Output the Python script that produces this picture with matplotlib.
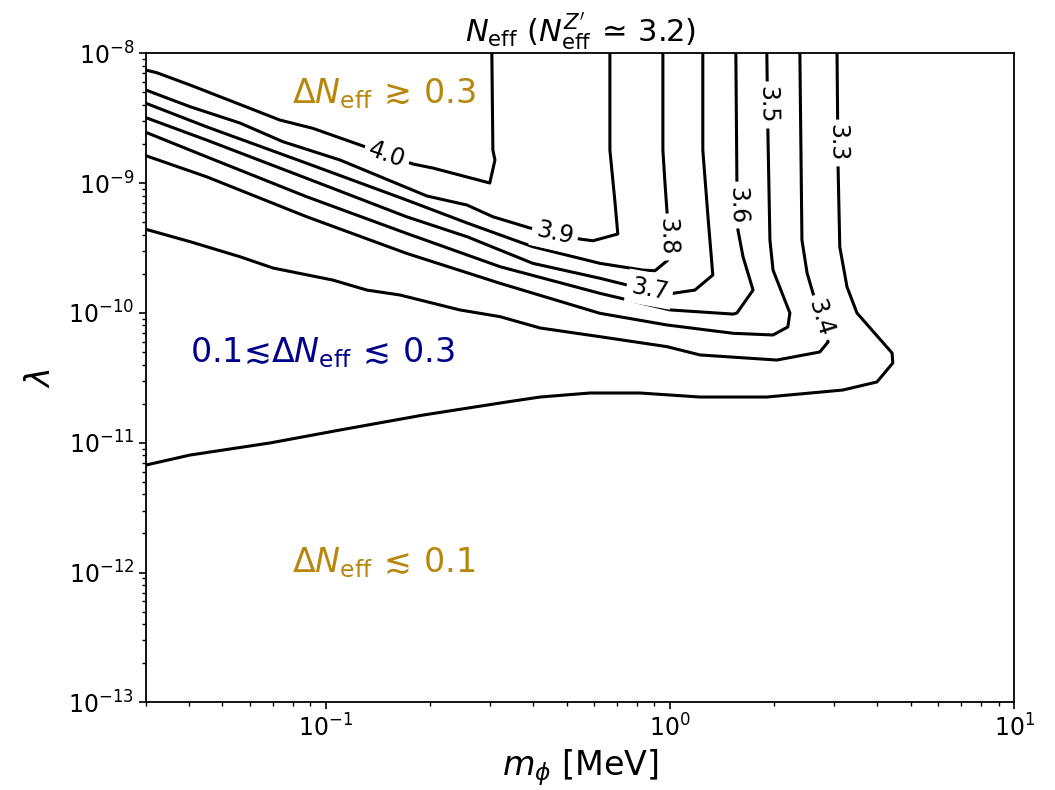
import numpy as np
import matplotlib.pyplot as plt

# N_eff contour levels, traced as (log10 m_phi [MeV], log10 lambda)
levels = [4.0, 3.9, 3.8, 3.7, 3.6, 3.5, 3.4, 3.3]

logm_40 = [-1.523, -1.492, -1.395, -1.270, -1.134, -1.038, -0.901, -0.747, -0.689, -0.524, -0.509, -0.515, -0.518]
logl_40 = [-8.129, -8.149, -8.244, -8.373, -8.514, -8.578, -8.706, -8.853, -8.884, -8.999, -8.822, -8.745, -8.0]

logm_39 = [-1.523, -1.395, -1.250, -1.125, -0.959, -0.707, -0.590, -0.515, -0.407, -0.262, -0.224, -0.152, -0.160, -0.175, -0.175]
logl_39 = [-8.283, -8.411, -8.537, -8.681, -8.822, -9.099, -9.169, -9.259, -9.346, -9.431, -9.444, -9.392, -9.153, -8.745, -8.0]

logm_38 = [-1.523, -1.347, -1.056, -0.766, -0.590, -0.399, -0.204, -0.079, -0.044, -0.006, -0.009, -0.015, -0.021, -0.021]
logl_38 = [-8.385, -8.566, -8.847, -9.130, -9.307, -9.490, -9.618, -9.670, -9.675, -9.592, -9.220, -8.999, -8.745, -8.0]

logm_37 = [-1.523, -1.347, -1.056, -0.766, -0.590, -0.399, -0.204, -0.125, 0.008, 0.072, 0.124, 0.110, 0.095, 0.095]
logl_37 = [-8.496, -8.668, -8.963, -9.259, -9.413, -9.618, -9.733, -9.785, -9.849, -9.824, -9.708, -9.259, -8.745, -8.0]

logm_36 = [-1.523, -1.347, -1.056, -0.766, -0.494, -0.204, 0.0, 0.183, 0.194, 0.241, 0.212, 0.197, 0.194, 0.191]
logl_36 = [-8.609, -8.797, -9.105, -9.387, -9.644, -9.849, -9.977, -10.009, -10.001, -9.824, -9.569, -9.361, -8.976, -8.0]

logm_35 = [-1.523, -1.347, -1.056, -0.766, -0.494, -0.204, -0.009, 0.183, 0.299, 0.342, 0.348, 0.299, 0.290, 0.284, 0.281]
logl_35 = [-8.789, -8.951, -9.259, -9.541, -9.772, -10.003, -10.093, -10.157, -10.170, -10.108, -10.001, -9.670, -9.438, -8.591, -8.0]

logm_34 = [-1.523, -1.395, -1.250, -1.154, -0.980, -0.881, -0.785, -0.611, -0.494, -0.378, -0.204, -0.009, 0.087, 0.310, 0.435, 0.459, 0.415, 0.398, 0.383, 0.377]
logl_34 = [-9.356, -9.451, -9.567, -9.654, -9.747, -9.824, -9.862, -9.977, -10.029, -10.116, -10.183, -10.260, -10.324, -10.363, -10.301, -10.224, -9.847, -9.693, -9.438, -8.0]

logm_33 = [-1.523, -1.395, -1.163, -0.959, -0.718, -0.474, -0.378, -0.233, -0.088, 0.087, 0.281, 0.502, 0.601, 0.647, 0.645, 0.543, 0.514, 0.493, 0.488, 0.485]
logl_33 = [-11.172, -11.095, -11.002, -10.902, -10.787, -10.686, -10.648, -10.617, -10.617, -10.648, -10.648, -10.594, -10.532, -10.386, -10.309, -10.001, -9.800, -9.492, -8.876, -8.0]

paths_logm = [logm_40, logm_39, logm_38, logm_37, logm_36, logm_35, logm_34, logm_33]
paths_logl = [logl_40, logl_39, logl_38, logl_37, logl_36, logl_35, logl_34, logl_33]

# where each contour label sits
label_logm = [-0.823, -0.335, -0.009, -0.059, 0.195, 0.281, 0.435, 0.485]
label_logl = [-8.784, -9.392, -9.415, -9.816, -9.169, -8.398, -10.039, -8.691]

# region annotations
region_text = [r'$\Delta N_{\rm eff}\, \gtrsim\, 0.3$',
               '0.1\u2272' + r'$\Delta N_{\rm eff}\, \lesssim\, 0.3$',
               r'$\Delta N_{\rm eff}\, \lesssim\, 0.1$']
region_m = [0.0796, 0.0403, 0.0796]
region_l = [10**-8.385, 10**-10.381, 10**-11.996]
region_col = ['#b8860b', '#00008b', '#b8860b']


def put_label(ax, xs, ys, lx, ly, text):
    pts = ax.transData.transform(np.column_stack([xs, ys]))
    p = ax.transData.transform((lx, ly))
    best = None
    for a, b in zip(pts[:-1], pts[1:]):
        d = b - a
        t = np.clip(np.dot(p - a, d) / max(np.dot(d, d), 1e-9), 0, 1)
        q = a + t * d
        dist = np.hypot(*(p - q))
        if best is None or dist < best[0]:
            best = (dist, q, d)
    _, q, d = best
    ang = np.degrees(np.arctan2(d[1], d[0]))
    if ang >= 90:
        ang -= 180
    if ang < -90:
        ang += 180
    pos = ax.transData.inverted().transform(q)
    ax.text(pos[0], pos[1], text, rotation=ang, rotation_mode='anchor',
            ha='center', va='center', fontsize=17, zorder=5,
            bbox=dict(boxstyle='square,pad=0.2', fc='white', ec='none'))


fig = plt.figure(figsize=(10.55, 7.9), dpi=100)
ax = fig.add_axes([0.1384, 0.1110, 0.8230, 0.8215])
ax.set_xscale('log')
ax.set_yscale('log')
ax.set_xlim(0.03, 10)
ax.set_ylim(1e-13, 1e-8)

for lm, ll in zip(paths_logm, paths_logl):
    ax.plot(10**np.array(lm), 10**np.array(ll), color='black', lw=2.2, zorder=3)

for lev, lm, ll, xm, xl in zip(levels, paths_logm, paths_logl, label_logm, label_logl):
    put_label(ax, 10**np.array(lm), 10**np.array(ll), 10**xm, 10**xl, f'{lev:.1f}')

for t, xm, yl, c in zip(region_text, region_m, region_l, region_col):
    ax.text(xm, yl, t, color=c, fontsize=24, ha='left', va='baseline')

ax.set_xlabel(r'$m_\phi$ [MeV]', fontsize=24, labelpad=4)
ax.set_ylabel(r'$\lambda$', fontsize=24, labelpad=8)
ax.set_title(r"$N_{\rm eff}$ ($N_{\rm eff}^{Z'}\, \simeq\, 3.2$)", fontsize=22, pad=6)
ax.tick_params(which='major', labelsize=17, length=5, width=1.2)
ax.tick_params(which='minor', length=3, width=1.0)
for s in ax.spines.values():
    s.set_linewidth(1.3)

fig.savefig('out.png', dpi=100)
